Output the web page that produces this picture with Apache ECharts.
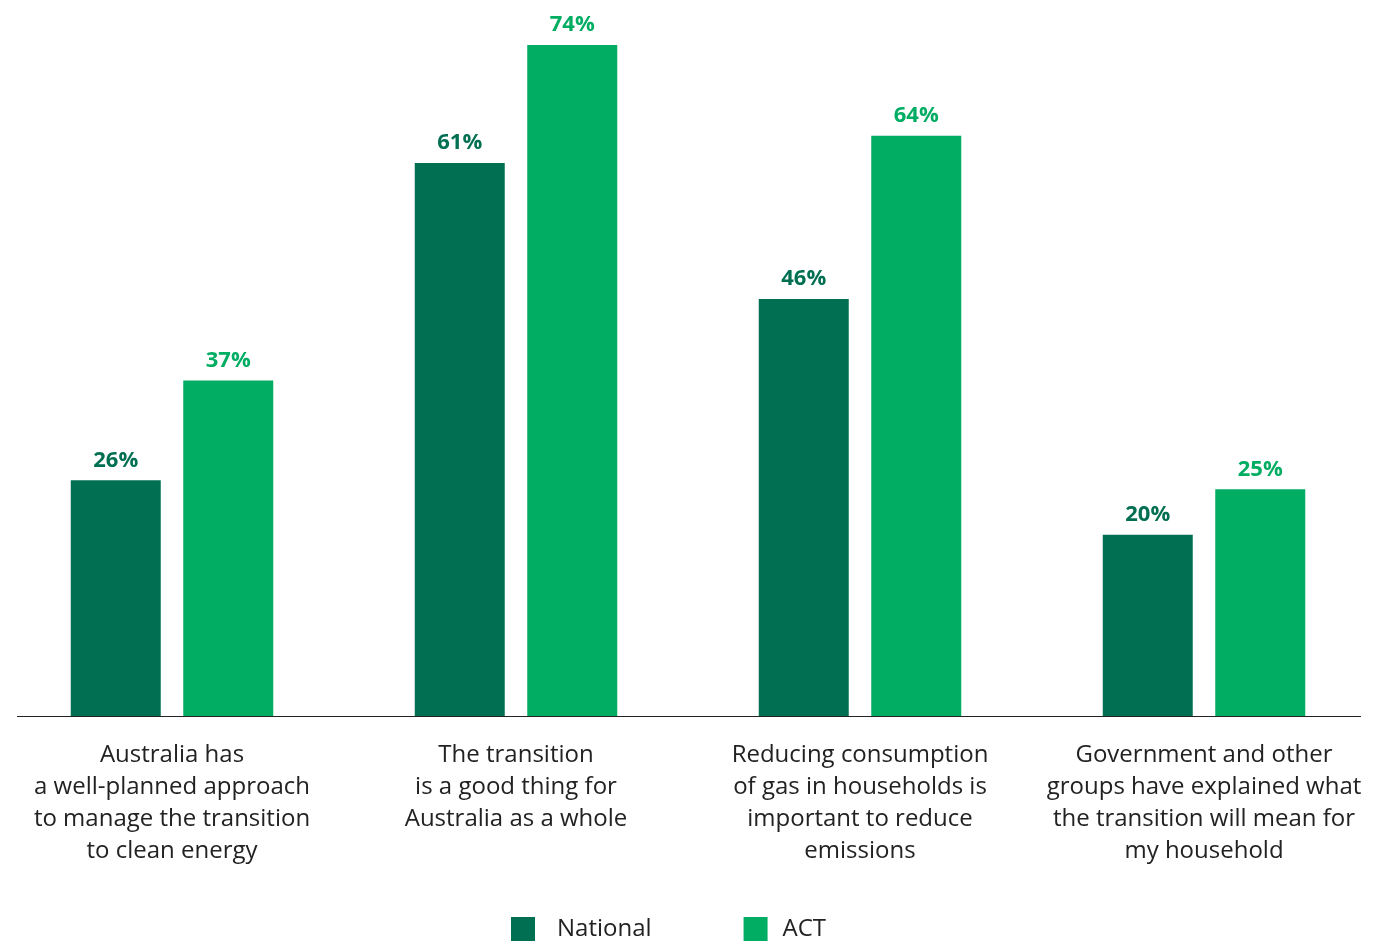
<!DOCTYPE html>
<html>
<head>
<meta charset="utf-8">
<script src="https://cdn.jsdelivr.net/npm/echarts@6/dist/echarts.min.js"></script>
<style>
  html, body { margin: 0; padding: 0; background: #ffffff; }
  #chart { width: 1376px; height: 942px; }
</style>
</head>
<body>
<div id="chart"></div>
<script>
// Statements about the clean energy transition, share agreeing (%)
const categories = [
  'Australia has\na well-planned approach\nto manage the transition\nto clean energy',
  'The transition\nis a good thing for\nAustralia as a whole',
  'Reducing consumption\nof gas in households is\nimportant to reduce\nemissions',
  'Government and other\ngroups have explained what\nthe transition will mean for\nmy household'
];
const nationalValues = [26, 61, 46, 20];
const actValues = [37, 74, 64, 25];
const seriesNames = ['National', 'ACT'];

const colorNational = '#006f52';
const colorACT = '#00ad62';
const fontFamily = '"Open Sans", "Noto Sans", sans-serif';

const chart = echarts.init(document.getElementById('chart'));

function valueLabel(color) {
  return {
    show: true,
    position: 'top',
    distance: 9,
    formatter: '{c}%',
    color: color,
    fontFamily: fontFamily,
    fontWeight: 'bold',
    fontSize: 22
  };
}

chart.setOption({
  animation: false,
  backgroundColor: '#ffffff',
  textStyle: { fontFamily: fontFamily },
  grid: { left: -2, width: 1390, top: 45, bottom: 226, containLabel: false },
  legend: {
    data: [
      { name: seriesNames[0], textStyle: { padding: [0, 0, 0, 17] } },
      { name: seriesNames[1], textStyle: { padding: [0, 0, 0, 10] } }
    ],
    top: 912,
    left: 506,
    icon: 'rect',
    itemWidth: 24,
    itemHeight: 24,
    itemGap: 92,
    textStyle: { fontSize: 24, color: '#222222', fontFamily: fontFamily }
  },
  xAxis: {
    type: 'category',
    data: categories,
    axisLine: { show: false },
    axisTick: { show: false },
    axisLabel: {
      interval: 0,
      margin: 23,
      fontSize: 24,
      lineHeight: 32,
      color: '#222222',
      fontFamily: fontFamily,
      align: 'center'
    }
  },
  yAxis: {
    type: 'value',
    min: 0,
    max: 74,
    show: false,
    splitLine: { show: false }
  },
  series: [
    {
      name: seriesNames[0],
      type: 'bar',
      data: nationalValues,
      barWidth: 90,
      barGap: '25%',
      itemStyle: { color: colorNational },
      label: valueLabel(colorNational)
    },
    {
      name: seriesNames[1],
      type: 'bar',
      data: actValues,
      barWidth: 90,
      barGap: '25%',
      itemStyle: { color: colorACT },
      label: valueLabel(colorACT)
    }
  ],
  graphic: [
    {
      type: 'line',
      shape: { x1: 17, y1: 716.5, x2: 1361, y2: 716.5 },
      style: { stroke: '#222222', lineWidth: 1 },
      z: 10
    }
  ]
});
</script>
</body>
</html>
